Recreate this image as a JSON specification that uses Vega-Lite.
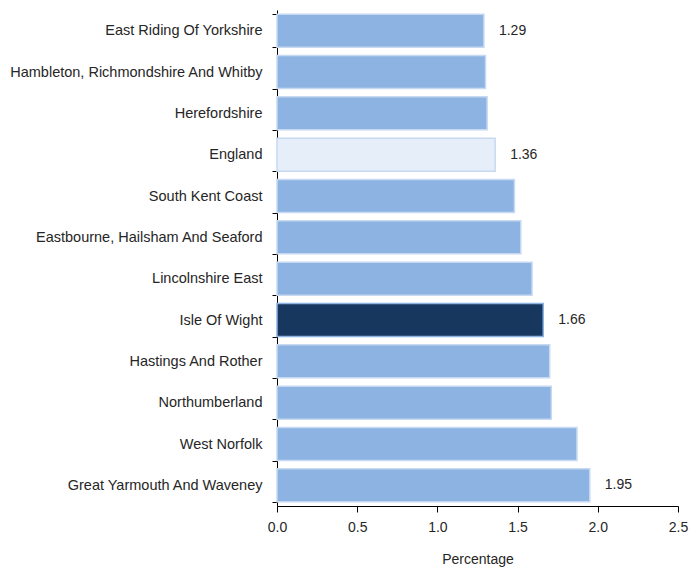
{
  "$schema": "https://vega.github.io/schema/vega-lite/v6.json",
  "width": 401,
  "height": 496,
  "autosize": {"type": "none"},
  "padding": {"left": 277, "top": 10, "right": 11, "bottom": 61},
  "background": "white",
  "config": {
    "view": {"stroke": null},
    "font": "Liberation Sans",
    "axis": {"labelFont": "Liberation Sans", "titleFont": "Liberation Sans", "labelColor": "#262626", "titleColor": "#262626"}
  },
  "data": {
    "values": [
      {"area": "East Riding Of Yorkshire", "value": 1.29, "type": "other", "label": "1.29"},
      {"area": "Hambleton, Richmondshire And Whitby", "value": 1.30, "type": "other", "label": ""},
      {"area": "Herefordshire", "value": 1.31, "type": "other", "label": ""},
      {"area": "England", "value": 1.36, "type": "england", "label": "1.36"},
      {"area": "South Kent Coast", "value": 1.48, "type": "other", "label": ""},
      {"area": "Eastbourne, Hailsham And Seaford", "value": 1.52, "type": "other", "label": ""},
      {"area": "Lincolnshire East", "value": 1.59, "type": "other", "label": ""},
      {"area": "Isle Of Wight", "value": 1.66, "type": "focus", "label": "1.66"},
      {"area": "Hastings And Rother", "value": 1.70, "type": "other", "label": ""},
      {"area": "Northumberland", "value": 1.71, "type": "other", "label": ""},
      {"area": "West Norfolk", "value": 1.87, "type": "other", "label": ""},
      {"area": "Great Yarmouth And Waveney", "value": 1.95, "type": "other", "label": "1.95"}
    ]
  },
  "encoding": {
    "y": {
      "field": "area", "type": "nominal", "sort": null,
      "scale": {"paddingInner": 0.2, "paddingOuter": 0.1},
      "axis": {
        "title": null, "labelFontSize": 14.5, "labelPadding": 10, "labelLimit": 300,
        "domainColor": "#000000", "tickColor": "#000000", "tickSize": 5, "tickBand": "extent",
        "labelColor": "#262626"
      }
    },
    "x": {
      "field": "value", "type": "quantitative",
      "scale": {"domain": [0, 2.5], "nice": false},
      "axis": {
        "title": "Percentage", "titleFontSize": 14, "titleFontWeight": "normal", "titlePadding": 18,
        "values": [0, 0.5, 1, 1.5, 2, 2.5], "format": ".1f", "grid": false,
        "labelFontSize": 14, "labelPadding": 8, "domainColor": "#000000", "tickColor": "#000000", "tickSize": 6,
        "labelFlush": false
      }
    }
  },
  "layer": [
    {
      "mark": {"type": "bar", "strokeWidth": 1.5},
      "encoding": {
        "color": {
          "field": "type", "type": "nominal",
          "scale": {"domain": ["other", "england", "focus"], "range": ["#8db3e2", "#e6eef9", "#17375e"]},
          "legend": null
        },
        "stroke": {
          "field": "type", "type": "nominal",
          "scale": {"domain": ["other", "england", "focus"], "range": ["#c6d9f1", "#c6d9f1", "#8db3e2"]},
          "legend": null
        }
      }
    },
    {
      "mark": {"type": "text", "align": "left", "dx": 15, "fontSize": 14, "color": "#262626"},
      "encoding": {"text": {"field": "label"}}
    }
  ]
}
